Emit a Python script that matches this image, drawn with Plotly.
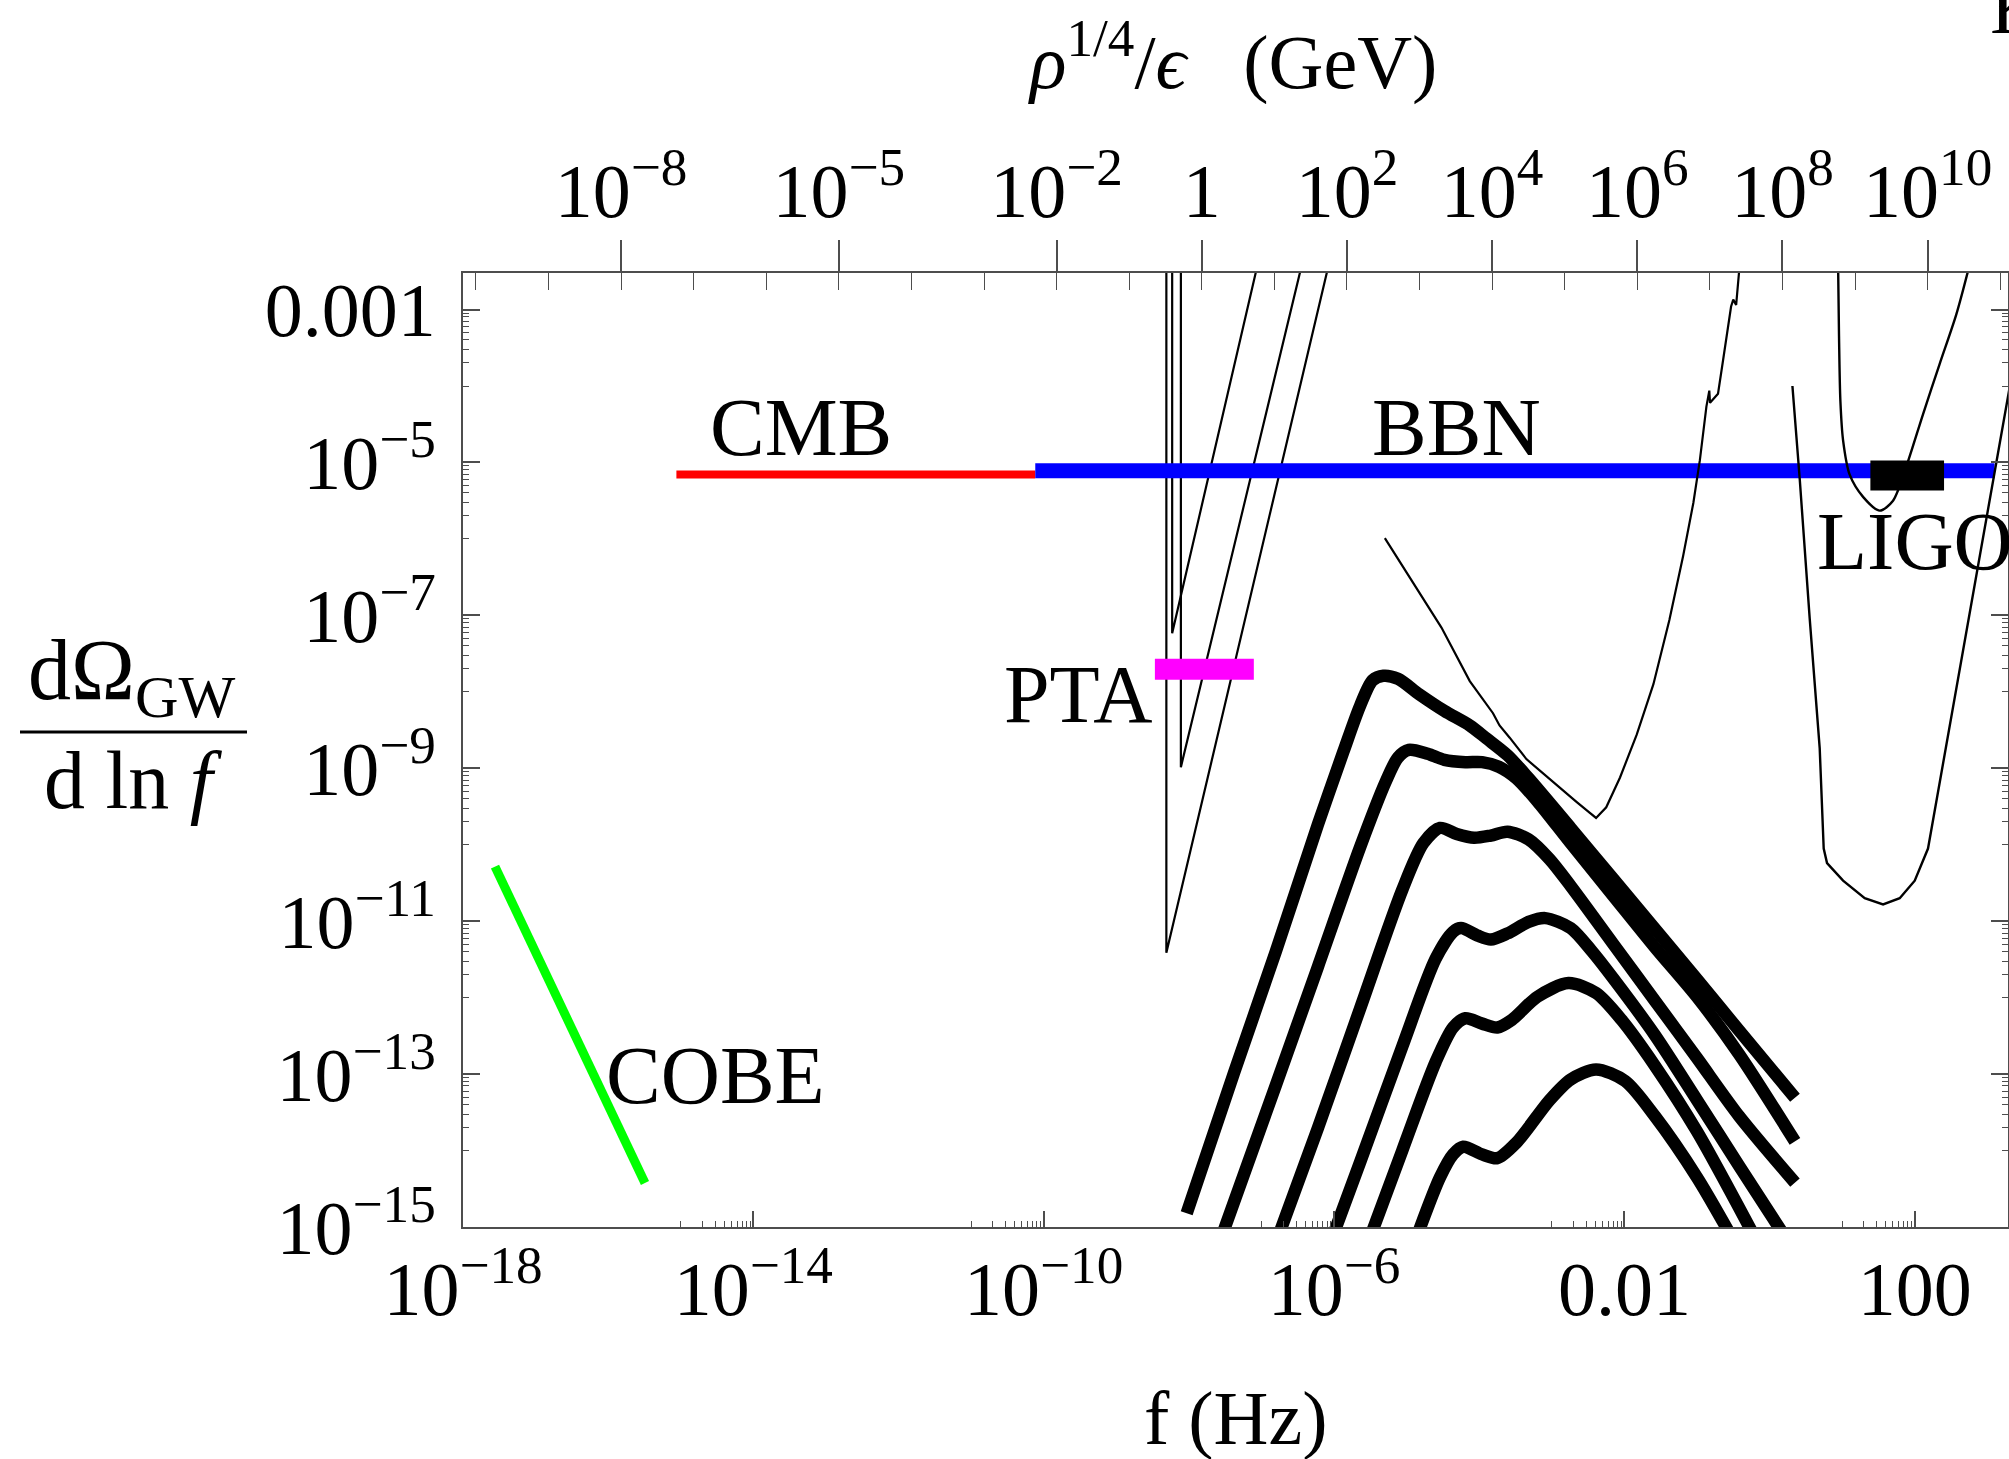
import numpy as np
import plotly.graph_objects as go

# ------------------------------------------------------------------
# Data (log10 of f [Hz] and log10 of dOmega/dlnf)
# ------------------------------------------------------------------
# Thick GW spectra (six curves, top to bottom)
specA_logf = [-8.03, -7.38, -6.80, -6.22, -5.87, -5.64, -5.47, -5.32, -5.12, -4.83, -4.48, -4.13, -3.90, -3.61, -3.32, -2.74, -2.16, -1.58, -1.00, -0.42, 0.35]
specA_logO = [-14.82, -12.99, -11.39, -9.73, -8.78, -8.18, -7.85, -7.79, -7.83, -8.03, -8.25, -8.44, -8.61, -8.83, -9.13, -9.78, -10.44, -11.10, -11.76, -12.43, -13.31]

specB_logf = [-7.52, -6.80, -6.22, -5.64, -5.29, -5.12, -4.97, -4.71, -4.48, -4.19, -3.96, -3.73, -3.49, -3.20, -2.74, -2.16, -1.58, -1.00, -0.42, 0.35]
specB_logO = [-15.05, -13.14, -11.59, -10.03, -9.18, -8.86, -8.76, -8.81, -8.89, -8.92, -8.92, -8.98, -9.13, -9.43, -9.98, -10.66, -11.34, -11.99, -12.74, -13.88]

specC_logf = [-6.74, -6.22, -5.64, -5.06, -4.77, -4.54, -4.31, -4.07, -3.84, -3.61, -3.32, -3.03, -2.74, -2.16, -1.58, -1.00, -0.42, 0.35]
specC_logO = [-15.05, -13.70, -12.14, -10.59, -9.98, -9.78, -9.86, -9.91, -9.88, -9.83, -9.93, -10.19, -10.54, -11.29, -12.04, -12.79, -13.55, -14.42]

specD_logf = [-5.99, -5.64, -5.06, -4.60, -4.36, -4.25, -4.02, -3.84, -3.61, -3.32, -3.09, -2.74, -2.45, -2.16, -1.58, -1.00, -0.42, 0.16]
specD_logO = [-15.05, -14.15, -12.64, -11.49, -11.14, -11.09, -11.19, -11.24, -11.16, -11.01, -10.96, -11.09, -11.39, -11.74, -12.49, -13.34, -14.20, -15.05]

specE_logf = [-5.47, -5.06, -4.60, -4.36, -4.19, -3.96, -3.75, -3.55, -3.20, -2.77, -2.39, -2.04, -1.58, -1.00, -0.25]
specE_logO = [-15.05, -14.00, -12.84, -12.39, -12.27, -12.34, -12.39, -12.29, -11.99, -11.81, -11.94, -12.29, -12.89, -13.75, -15.05]

specF_logf = [-4.83, -4.54, -4.36, -4.22, -3.96, -3.75, -3.49, -3.03, -2.74, -2.39, -1.99, -1.58, -1.00, -0.57]
specF_logO = [-15.05, -14.35, -14.05, -13.95, -14.05, -14.10, -13.90, -13.34, -13.07, -12.94, -13.09, -13.55, -14.35, -15.05]

# Pulsar-timing sensitivity wedges (thin)
pta1_logf = [-8.23, -8.23, -7.05]
pta1_logO = [-2.40, -7.235, -2.40]
pta2_logf = [-8.11, -8.11, -6.44]
pta2_logO = [-2.40, -8.985, -2.40]
pta3_logf = [-8.31, -8.31, -6.07]
pta3_logO = [-2.40, -11.414, -2.40]

# LISA-like sensitivity curve (thin)
lisa_logf = [-5.30, -4.52, -4.13, -3.99, -3.81, -3.72, -3.58, -3.35, -3.12, -2.89, -2.66, -2.48, -2.39, -2.25, -2.06,
             -1.83, -1.60, -1.38, -1.19, -1.05, -0.96, -0.87, -0.83, -0.82, -0.71, -0.64, -0.57, -0.53, -0.50, -0.46, -0.41]
lisa_logO = [-5.99, -7.16, -7.86, -8.04, -8.28, -8.44, -8.60, -8.88, -9.07, -9.26, -9.44, -9.58, -9.65, -9.51, -9.12,
             -8.56, -7.90, -7.06, -6.22, -5.53, -4.97, -4.27, -4.06, -4.22, -4.10, -3.66, -3.24, -2.96, -2.87, -2.94, -2.40]

# Ground-based interferometer sensitivity curves (thin)
ligo1_logf = [0.315, 0.416, 0.553, 0.691, 0.746, 0.792, 1.013, 1.311, 1.564, 1.793, 2.000, 2.183, 3.35]
ligo1_logO = [-4.00, -5.22, -7.04, -8.74, -10.05, -10.24, -10.47, -10.70, -10.78, -10.70, -10.47, -10.05, -3.79]
ligo2_logf = [0.944, 0.957, 0.976, 1.013, 1.104, 1.288, 1.518, 1.701, 1.885, 2.114, 2.344, 2.574, 2.76]
ligo2_logO = [-2.40, -3.35, -4.20, -4.71, -5.16, -5.45, -5.63, -5.50, -5.05, -4.37, -3.71, -3.06, -2.40]

# Bounds / measurements
cmb_logf = [-15.06, -10.116]
cmb_logO = [-5.159, -5.159]
bbn_logf = [-10.116, 3.10]
bbn_logO = [-5.107, -5.107]
pta_box_logf = [-8.468, -7.105]
pta_box_logO = [-7.706, -7.706]
ligo_box_logf = [1.389, 2.404]
ligo_box_logO = [-5.169, -5.169]
cobe_logf = [-17.559, -15.493]
cobe_logO = [-10.286, -14.425]

# Axes
x_range_log = [-18.0, 3.285]
y_range_log = [-15.0, -2.522]
log_f_per_GeV = -7.822   # top axis: log10(rho^1/4/eps [GeV]) = log10 f - log_f_per_GeV

x_major = [1e-18, 1e-14, 1e-10, 1e-6, 1e-2, 1e2]
x_major_text = ["10<sup>\u221218</sup>", "10<sup>\u221214</sup>", "10<sup>\u221210</sup>", "10<sup>\u22126</sup>", "0.01", "100"]
y_major = [1e-3, 1e-5, 1e-7, 1e-9, 1e-11, 1e-13, 1e-15]
y_major_text = ["0.001", "10<sup>\u22125</sup>", "10<sup>\u22127</sup>", "10<sup>\u22129</sup>",
                "10<sup>\u221211</sup>", "10<sup>\u221213</sup>", "10<sup>\u221215</sup>"]
top_major = [1e-8, 1e-5, 1e-2, 1.0, 1e2, 1e4, 1e6, 1e8, 1e10]
top_major_text = ["10<sup>\u22128</sup>", "10<sup>\u22125</sup>", "10<sup>\u22122</sup>", "1",
                  "10<sup>2</sup>", "10<sup>4</sup>", "10<sup>6</sup>", "10<sup>8</sup>", "10<sup>10</sup>"]
top_minor = [10.0 ** k for k in range(-10, 12)]

def decade_below(majors):
    return [k * m / 10.0 for m in majors for k in range(1, 10)]

# ------------------------------------------------------------------
FONT = "Liberation Serif"
fig = go.Figure()

def add(lf, lo, color, width, shape="linear", smoothing=1.0):
    fig.add_trace(go.Scatter(
        x=np.power(10.0, np.array(lf)), y=np.power(10.0, np.array(lo)),
        mode="lines", line=dict(color=color, width=width, shape=shape, smoothing=smoothing),
        hoverinfo="skip", showlegend=False))

add(cmb_logf, cmb_logO, "#ff0000", 8)
for lf, lo in [(pta1_logf, pta1_logO), (pta2_logf, pta2_logO), (pta3_logf, pta3_logO)]:
    add(lf, lo, "black", 2.2)
add(bbn_logf, bbn_logO, "#0000ff", 15)
add(lisa_logf, lisa_logO, "black", 2.2)
add(ligo1_logf, ligo1_logO, "black", 2.4)
add(ligo2_logf, ligo2_logO, "black", 2.4, shape="spline", smoothing=0.8)
add(ligo_box_logf, ligo_box_logO, "black", 30)
add(pta_box_logf, pta_box_logO, "#ff00ff", 21)
for lf, lo in [(specA_logf, specA_logO), (specB_logf, specB_logO), (specC_logf, specC_logO),
               (specD_logf, specD_logO), (specE_logf, specE_logO), (specF_logf, specF_logO)]:
    add(lf, lo, "black", 12.5, shape="spline", smoothing=0.8)
add(cobe_logf, cobe_logO, "#00ff00", 9)

# invisible anchors so that the two top (energy) axes are drawn
for xa in ("x2", "x3"):
    fig.add_trace(go.Scatter(x=[top_major[3]], y=[y_major[3]], xaxis=xa, yaxis="y", mode="markers",
                             marker=dict(size=1, opacity=0), hoverinfo="skip", showlegend=False))

tick_font = dict(family=FONT, size=76, color="black")
AX = "#4d4d4d"

fig.update_layout(
    width=2009, height=1459,
    margin=dict(l=463, r=1, t=273, b=232, autoexpand=False),
    paper_bgcolor="white", plot_bgcolor="white", showlegend=False,
    font=dict(family=FONT, color="black"),
    xaxis=dict(type="log", range=x_range_log, side="bottom",
               tickmode="array", tickvals=x_major, ticktext=x_major_text,
               ticks="inside", ticklen=16, tickwidth=1.5, tickcolor=AX,
               minor=dict(tickmode="array", tickvals=decade_below(x_major), ticks="inside",
                          ticklen=6, tickwidth=1.2, tickcolor=AX, showgrid=False),
               showline=True, linecolor=AX, linewidth=2, mirror=False,
               showgrid=False, zeroline=False, tickfont=tick_font, automargin=False,
               ticklabelstandoff=-5),
    xaxis2=dict(type="log", overlaying="x", anchor="y", side="top",
                range=[x_range_log[0] - log_f_per_GeV, x_range_log[1] - log_f_per_GeV],
                tickmode="array", tickvals=top_major, ticktext=top_major_text,
                ticks="outside", ticklen=31, tickwidth=1.5, tickcolor=AX,
                showline=True, linecolor=AX, linewidth=2,
                showgrid=False, zeroline=False, tickfont=tick_font, automargin=False,
                ticklabelstandoff=-7),
    xaxis3=dict(type="log", overlaying="x", anchor="y", side="top",
                range=[x_range_log[0] - log_f_per_GeV, x_range_log[1] - log_f_per_GeV],
                tickmode="array", tickvals=top_major, ticktext=["" for _ in top_major],
                ticks="inside", ticklen=31, tickwidth=1.5, tickcolor=AX,
                minor=dict(tickmode="array", tickvals=top_minor, ticks="inside",
                           ticklen=17, tickwidth=1.2, tickcolor=AX, showgrid=False),
                showticklabels=False, showline=False,
                showgrid=False, zeroline=False, automargin=False),
    yaxis=dict(type="log", range=y_range_log,
               tickmode="array", tickvals=y_major, ticktext=y_major_text,
               ticks="inside", ticklen=17, tickwidth=1.5, tickcolor=AX,
               minor=dict(tickmode="array", tickvals=decade_below(y_major), ticks="inside",
                          ticklen=6, tickwidth=1.2, tickcolor=AX, showgrid=False),
               showline=True, linecolor=AX, linewidth=2, mirror="ticks",
               showgrid=False, zeroline=False, tickfont=tick_font, automargin=False,
               ticklabelstandoff=10),
)

def px(X):
    return (X - 463.0) / 1545.0

def py(Y):
    return (1227.0 - Y) / 954.0

labels = [
    ("CMB", 801, 427, "center", 82),
    ("BBN", 1456, 427, "center", 82),
    ("COBE", 715, 1075, "center", 82),
]
ann = []
for t, X, Y, xa, s in labels:
    ann.append(dict(text=t, x=px(X), y=py(Y), xref="paper", yref="paper", xanchor=xa, yanchor="middle",
                    showarrow=False, font=dict(family=FONT, size=s, color="black")))
ann.append(dict(text="LIGO", x=px(1815), y=py(541), xref="paper", yref="paper", xanchor="left", yanchor="middle",
                showarrow=False, font=dict(family=FONT, size=82, color="black")))
ann.append(dict(text="PTA", x=px(1154), y=py(694), xref="paper", yref="paper", xanchor="right", yanchor="middle",
                showarrow=False, font=dict(family=FONT, size=82, color="black")))
ann.append(dict(text="f (Hz)", x=px(1236), y=py(1418), xref="paper", yref="paper", xanchor="center", yanchor="middle",
                showarrow=False, font=dict(family=FONT, size=76, color="black")))
ann.append(dict(text="<i>\u03c1</i><sup>1/4</sup>/<i>\u03f5</i>\u00a0\u00a0\u00a0(GeV)", x=px(1232), y=py(57),
                xref="paper", yref="paper", xanchor="center", yanchor="middle",
                showarrow=False, font=dict(family=FONT, size=76, color="black")))
ann.append(dict(text="d\u03a9<sub>GW</sub>", x=px(131), y=py(676), xref="paper", yref="paper",
                xanchor="center", yanchor="middle", showarrow=False, font=dict(family=FONT, size=86, color="black")))
ann.append(dict(text="d ln <i>f</i>", x=px(133), y=py(780), xref="paper", yref="paper",
                xanchor="center", yanchor="middle", showarrow=False, font=dict(family=FONT, size=82, color="black")))
ann.append(dict(text="K", x=px(1988), y=py(6), xref="paper", yref="paper",
                xanchor="left", yanchor="middle", showarrow=False, font=dict(family=FONT, size=80, color="black")))
fig.update_layout(annotations=ann)
fig.add_shape(type="line", xref="paper", yref="paper", x0=px(20), x1=px(247), y0=py(732), y1=py(732),
              line=dict(color="black", width=3))

fig.write_html("out.html")
